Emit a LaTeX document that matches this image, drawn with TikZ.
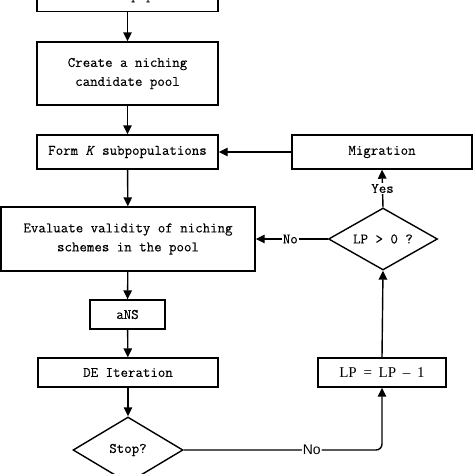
\documentclass[tikz,border=0pt]{standalone}
\usepackage{fontspec}
\newfontfamily\lsans{Liberation Sans}
\newfontfamily\lserif{Liberation Serif}
\newfontfamily\lmono{Latin Modern Mono}[FakeBold=0.3]
\usetikzlibrary{shapes.geometric,arrows.meta}
\begin{document}
\begin{tikzpicture}[x=1pt,y=-1pt,
  txt/.style={font=\lmono\fontsize{14.5}{19}\selectfont},
  box/.style={txt, draw, line width=1.4pt, inner sep=0pt, align=center},
  dia/.style={txt, draw, line width=1.4pt, diamond, inner sep=0pt},
  arr/.style={line width=1.4pt, -{Triangle[length=9pt,width=8.5pt]}},
  lab/.style={txt, fill=white, inner sep=1pt}]
\useasboundingbox (0,0) rectangle (474,474);
\clip (0,0) rectangle (474,474);
% left column
\node[box, minimum width=181, minimum height=30, anchor=south] (init) at (127.5,12) {Initialize population};
\node[box, minimum width=181, minimum height=63] (pool) at (127.5,73.5) {Create a niching\\candidate pool};
\node[box, minimum width=181, minimum height=34] (form) at (127.5,152) {Form \textit{K} subpopulations};
\node[box, minimum width=254, minimum height=64] (eval) at (128,239) {Evaluate validity of niching\\schemes in the pool};
\node[box, minimum width=75, minimum height=29] (ans) at (127.5,314.5) {aNS};
\node[box, minimum width=180, minimum height=29] (de) at (128,372.5) {DE Iteration};
\node[dia, minimum width=110, minimum height=66, aspect=1.67] (stop) at (128,450) {Stop?};
% right column
\node[box, minimum width=180, minimum height=34] (mig) at (382,152) {Migration};
\node[dia, minimum width=109, minimum height=62, aspect=1.76] (lp) at (383,239) {LP > 0 ?};
\node[box, minimum width=128, minimum height=29, font=\lserif\fontsize{15}{18}\selectfont] (lpm) at (382,372.5) {LP\hspace{0.45em}=\hspace{0.45em}LP\hspace{0.45em}–\hspace{0.45em}1};
% connectors
\draw[arr] (init) -- (pool);
\draw[arr] (pool) -- (form);
\draw[arr] (form) -- (eval);
\draw[arr] (eval) -- (ans);
\draw[arr] (ans) -- (de);
\draw[arr] (de) -- (stop);
\draw[arr] (mig) -- (form);
\draw[arr] (lp.north) -- node[lab, pos=0.5] {Yes} (mig.south);
\draw[arr] (lp.west) -- node[lab, pos=0.52] {No} (eval.east);
\draw[arr] (lpm.north) -- (lp.south);
\draw[arr, rounded corners=6pt] (stop.east) -| node[pos=0.323, fill=white, inner sep=1pt, font=\lsans\fontsize{14}{16}\selectfont] {No} (lpm.south);
\end{tikzpicture}
\end{document}
